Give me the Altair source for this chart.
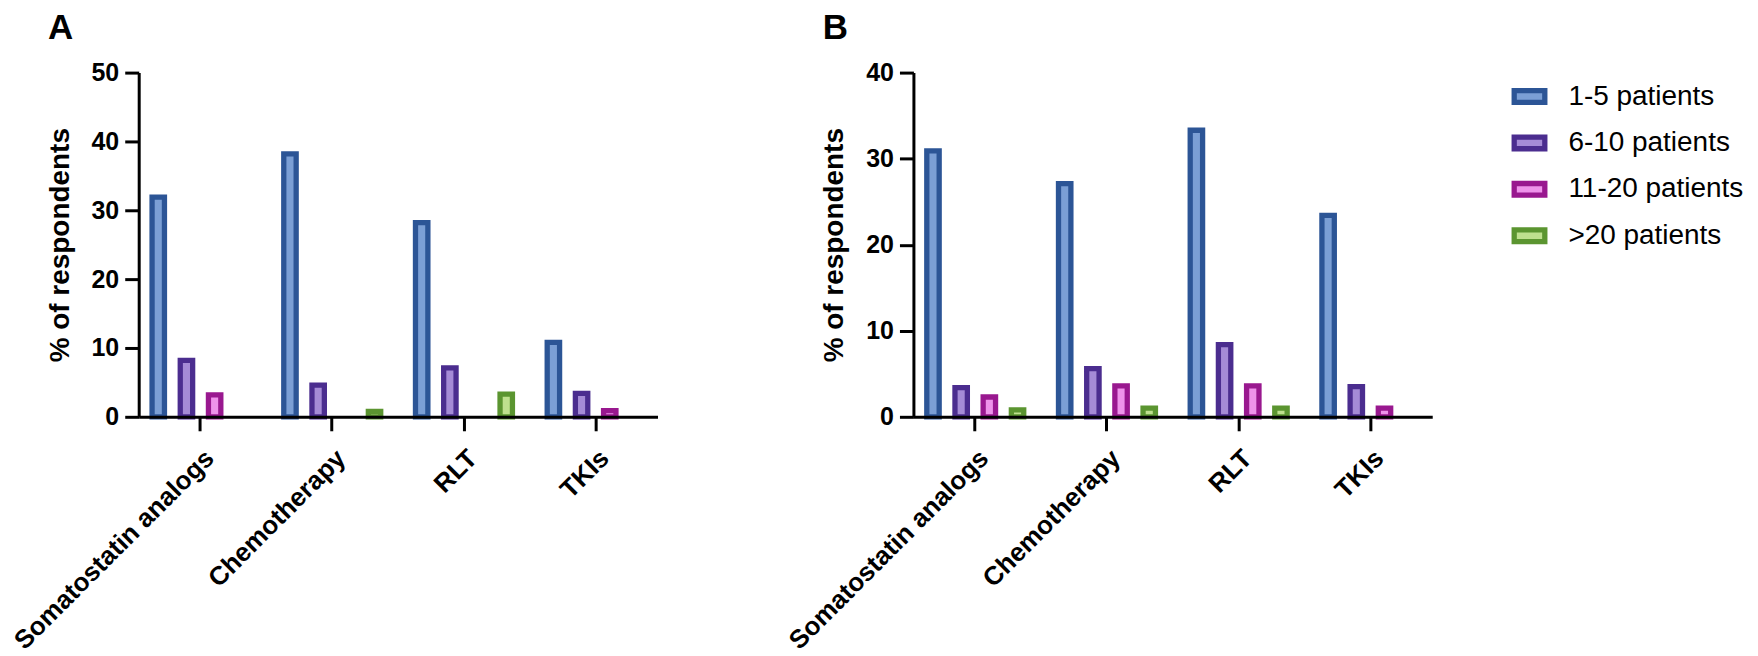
import altair as alt
import pandas as pd

FONT = "Liberation Sans"

treatments = ["Somatostatin analogs", "Chemotherapy", "RLT", "TKIs"]
groups = ["1-5 patients", "6-10 patients", "11-20 patients", ">20 patients"]

# Panel A (% of respondents)
a_1_5 = [31.9, 38.2, 28.2, 10.8]
a_6_10 = [8.2, 4.6, 7.1, 3.4]
a_11_20 = [3.2, 0, 0, 0.9]
a_gt20 = [0, 0.8, 3.3, 0]

# Panel B (% of respondents)
b_1_5 = [30.9, 27.1, 33.3, 23.4]
b_6_10 = [3.4, 5.6, 8.4, 3.5]
b_11_20 = [2.3, 3.6, 3.6, 1.0]
b_gt20 = [0.8, 1.0, 1.0, 0]

fills = ["#7B9FD5", "#A58BD6", "#EE93EA", "#BEE08E"]
strokes = ["#2C5596", "#4B2D8F", "#99188F", "#5B9530"]


def frame(series):
    rows = []
    for g, vals in zip(groups, series):
        for t, v in zip(treatments, vals):
            rows.append({"treatment": t, "group": g, "value": v})
    return pd.DataFrame(rows)


dfA = frame([a_1_5, a_6_10, a_11_20, a_gt20])
dfB = frame([b_1_5, b_6_10, b_11_20, b_gt20])

legend = alt.Legend(
    title=None,
    orient="right",
    symbolType="M-1,-0.381H1V0.381H-1Z",
    symbolSize=942,
    symbolStrokeWidth=5.3,
    labelFontSize=28,
    labelFont=FONT,
    labelColor="black",
    labelLimit=0,
    rowPadding=11.5,
    labelOffset=21,
    padding=6,
    offset=73,
)


def panel(df, ymax, letter):
    return (
        alt.Chart(
            df,
            title=alt.Title(
                letter,
                anchor="start",
                frame="group",
                fontSize=35,
                fontWeight="bold",
                font=FONT,
                color="black",
                offset=14.5,
                dx=-91,
            ),
        )
        .transform_filter("datum.value > 0")
        .mark_bar(strokeWidth=5.3)
        .encode(
            x=alt.X(
                "treatment:N",
                sort=treatments,
                scale=alt.Scale(paddingInner=0.144, paddingOuter=0.0415),
                axis=alt.Axis(
                    title=None,
                    labelAngle=-45,
                    labelAlign="right",
                    labelBaseline="top",
                    labelPadding=14,
                    labelFontSize=26,
                    labelLimit=0,
                    zindex=1,
                ),
            ),
            xOffset=alt.XOffset(
                "group:N",
                sort=groups,
                scale=alt.Scale(domain=groups, paddingInner=0.56, paddingOuter=0.28),
            ),
            y=alt.Y(
                "value:Q",
                scale=alt.Scale(domain=[0, ymax], nice=False),
                axis=alt.Axis(
                    values=list(range(0, ymax + 1, 10)),
                    title="% of respondents",
                    titlePadding=17,
                    labelPadding=6,
                    zindex=1,
                ),
            ),
            fill=alt.Fill(
                "group:N", sort=groups,
                scale=alt.Scale(domain=groups, range=fills), legend=legend,
            ),
            stroke=alt.Stroke(
                "group:N", sort=groups,
                scale=alt.Scale(domain=groups, range=strokes), legend=legend,
            ),
        )
        .properties(width=520, height=345)
    )


chart = (
    alt.hconcat(panel(dfA, 50, "A"), panel(dfB, 40, "B"), spacing=126.5)
    .properties(padding={"left": 1, "top": 2, "right": 0, "bottom": 0})
    .configure_view(stroke=None)
    .configure_axis(
        domainColor="black",
        domainWidth=3,
        tickColor="black",
        tickWidth=3,
        tickSize=14,
        grid=False,
        labelFont=FONT,
        labelFontWeight="bold",
        labelFontSize=25,
        labelColor="black",
        titleFont=FONT,
        titleFontWeight="bold",
        titleFontSize=28,
        titleColor="black",
    )
)

chart.save("out.html", embed_options={"renderer": "svg", "actions": False})
